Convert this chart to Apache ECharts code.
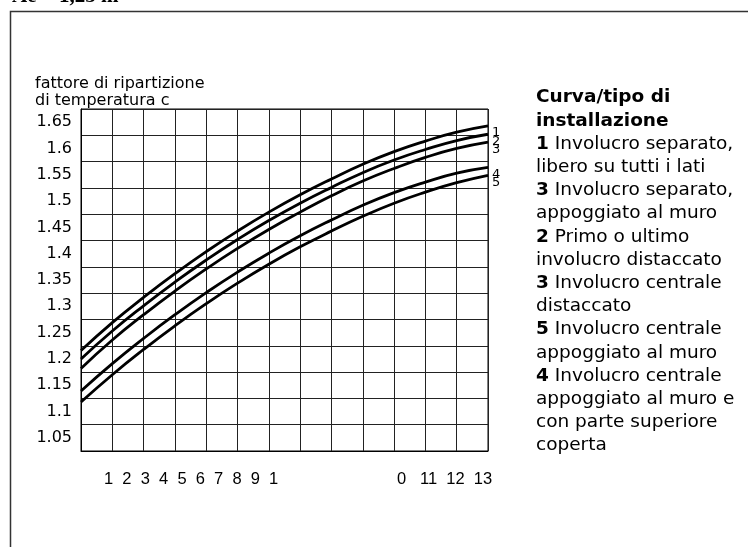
<!DOCTYPE html>
<html>
<head>
<meta charset="utf-8">
<script src="https://cdn.jsdelivr.net/npm/echarts@6/dist/echarts.min.js"></script>
<style>
  html, body { margin: 0; padding: 0; background: #fff; }
  #chart { width: 748px; height: 547px; }
</style>
</head>
<body>
<div id="chart"></div>
<script>
// tick labels (y labels sit in the middle of each grid row)
const yTickLabels = ["1.05", "1.1", "1.15", "1.2", "1.25", "1.3", "1.35", "1.4", "1.45", "1.5", "1.55", "1.6", "1.65"];
const xTickLabels = ["1  2  3  4  5  6  7  8  9  1", "0   11  12  13"];
const yAxisName = "fattore di ripartizione\ndi temperatura c";
const headerText = "Ae = 1,25 m";

// one value per vertical grid line
const columns = [0, 1, 2, 3, 4, 5, 6, 7, 8, 9, 10, 11, 12, 13];
const curve1 = [1.216, 1.269, 1.317, 1.362, 1.404, 1.443, 1.479, 1.512, 1.542, 1.570, 1.594, 1.614, 1.631, 1.643];
const curve2 = [1.200, 1.253, 1.301, 1.346, 1.388, 1.427, 1.463, 1.496, 1.526, 1.554, 1.578, 1.598, 1.615, 1.627];
const curve3 = [1.182, 1.236, 1.284, 1.329, 1.371, 1.410, 1.446, 1.479, 1.510, 1.538, 1.562, 1.583, 1.600, 1.612];
const curve4 = [1.139, 1.191, 1.239, 1.284, 1.326, 1.365, 1.401, 1.434, 1.464, 1.492, 1.516, 1.536, 1.553, 1.564];
const curve5 = [1.118, 1.170, 1.218, 1.263, 1.305, 1.344, 1.380, 1.413, 1.443, 1.471, 1.496, 1.517, 1.535, 1.549];
const curveNames = ["1", "2", "3", "4", "5"];

const legendTitle = ["Curva/tipo di", "installazione"];
const installTypes = [
  { num: "1", lines: ["Involucro separato,", "libero su tutti i lati"] },
  { num: "3", lines: ["Involucro separato,", "appoggiato al muro"] },
  { num: "2", lines: ["Primo o ultimo", "involucro distaccato"] },
  { num: "3", lines: ["Involucro centrale", "distaccato"] },
  { num: "5", lines: ["Involucro centrale", "appoggiato al muro"] },
  { num: "4", lines: ["Involucro centrale", "appoggiato al muro e", "con parte superiore", "coperta"] },
];

const font = "DejaVu Sans";

// build the legend text block
const legendLines = legendTitle.map((t) => "{b|" + t + "}");
installTypes.forEach((it) => {
  legendLines.push("{b|" + it.num + "} " + it.lines[0]);
  it.lines.slice(1).forEach((l) => legendLines.push(l));
});

const curves = [curve1, curve2, curve3, curve4, curve5];
const series = curves.map((c, i) => ({
  name: curveNames[i],
  type: "line",
  xAxisIndex: 0,
  yAxisIndex: 1,
  data: columns.map((x, j) => [x, c[j]]),
  smooth: true,
  symbol: "none",
  lineStyle: { color: "#000", width: 2.8 },
  endLabel: {
    show: true,
    formatter: "{a}",
    offset: [0, 7],
    distance: 4,
    fontFamily: font,
    fontSize: 13,
    color: "#000",
  },
  animation: false,
}));

var myChart = echarts.init(document.getElementById("chart"));

var option = {
  backgroundColor: "#fff",
  animation: false,
  grid: {
    left: 81,
    top: 109,
    width: 407,
    height: 342,
    show: true,
    borderColor: "#000",
    borderWidth: 1,
  },
  xAxis: {
    type: "value",
    min: 0,
    max: 13,
    interval: 1,
    axisLine: { show: true, lineStyle: { color: "#000", width: 1 } },
    axisTick: { show: false },
    axisLabel: { show: false },
    splitLine: { show: true, lineStyle: { color: "#222", width: 1 } },
  },
  yAxis: [
    {
      type: "category",
      data: yTickLabels,
      boundaryGap: true,
      axisLine: { show: true, lineStyle: { color: "#000", width: 1 } },
      axisTick: { show: false },
      axisLabel: {
        margin: 9,
        fontFamily: font,
        fontSize: 16,
        color: "#000",
      },
      splitLine: { show: true, lineStyle: { color: "#222", width: 1 } },
    },
    {
      type: "value",
      min: 1.025,
      max: 1.675,
      show: false,
      splitLine: { show: false },
    },
  ],
  series: series,
  graphic: [
    {
      type: "rect",
      shape: { x: 10.5, y: 11.5, width: 800, height: 600 },
      style: { fill: "none", stroke: "#333", lineWidth: 1.5 },
      silent: true,
    },
    {
      type: "text",
      left: 12,
      top: -14,
      style: {
        text: headerText,
        font: "bold 21px 'Liberation Serif'",
        fill: "#000",
      },
    },
    {
      type: "text",
      x: 35,
      y: 75,
      style: {
        text: yAxisName,
        fontFamily: font,
        fontSize: 16,
        lineHeight: 17.5,
        fill: "#000",
      },
    },
    {
      type: "text",
      x: 104,
      y: 471,
      style: {
        text: xTickLabels[0],
        fontFamily: "Liberation Sans",
        fontSize: 16.5,
        fill: "#000",
      },
    },
    {
      type: "text",
      x: 397,
      y: 471,
      style: {
        text: xTickLabels[1],
        fontFamily: "Liberation Sans",
        fontSize: 16.5,
        fill: "#000",
      },
    },
    {
      type: "text",
      x: 536,
      y: 86,
      style: {
        text: legendLines.join("\n"),
        fontFamily: font,
        fontSize: 18.5,
        lineHeight: 23.2,
        fill: "#000",
        rich: {
          b: { fontFamily: font, fontSize: 18.5, fontWeight: "bold", lineHeight: 23.2 },
        },
      },
    },
  ],
};

myChart.setOption(option);
</script>
</body>
</html>
